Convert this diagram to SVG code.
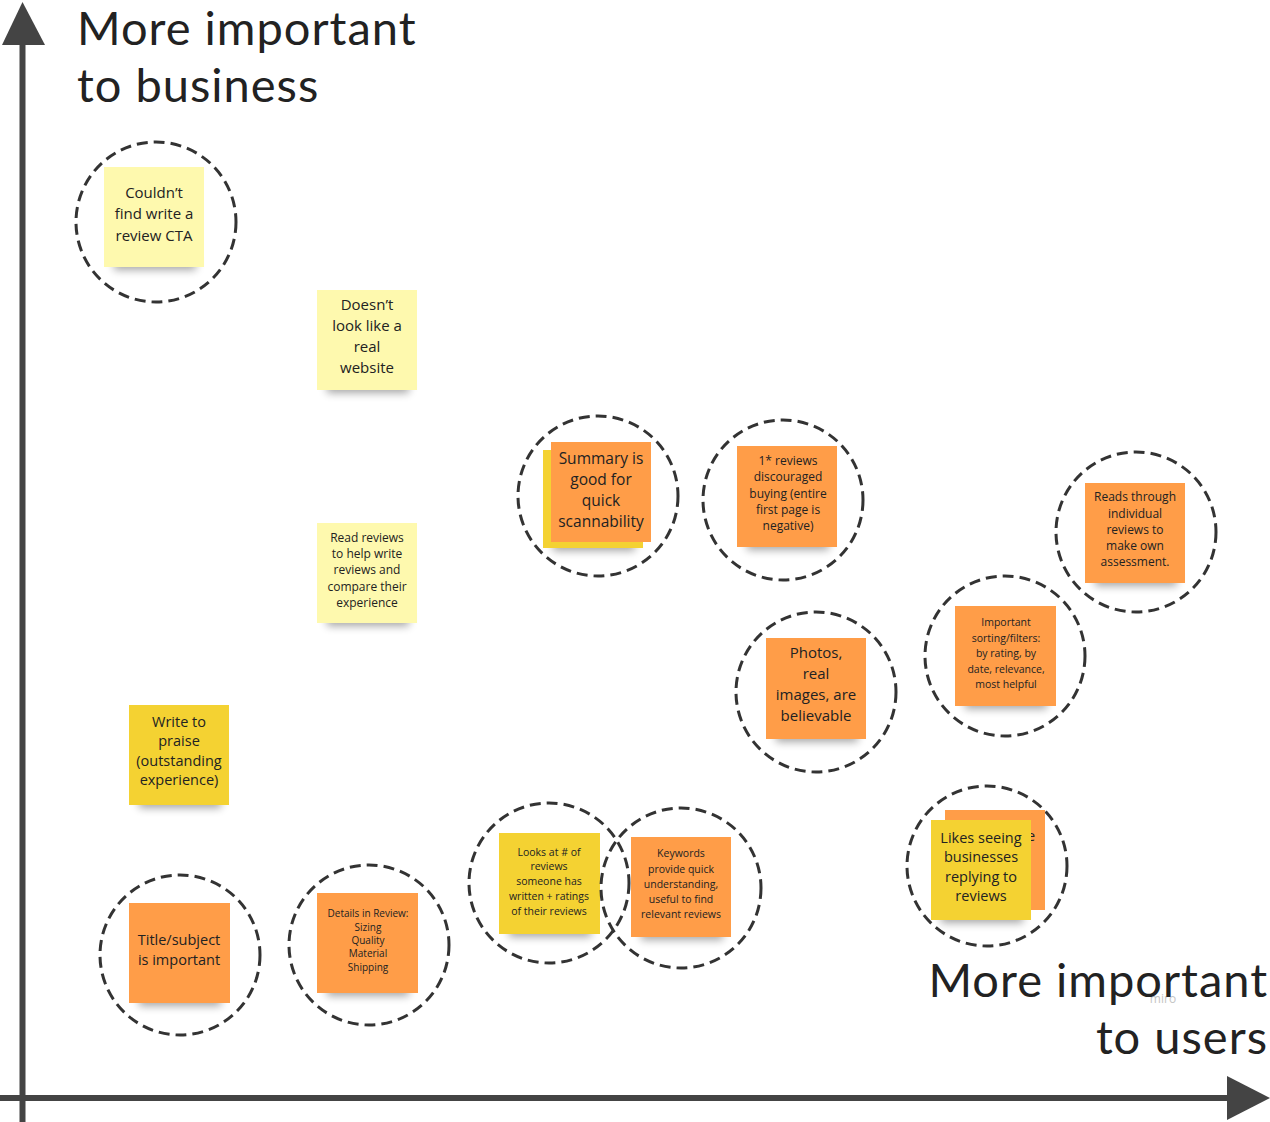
<svg xmlns="http://www.w3.org/2000/svg" width="1270" height="1122" viewBox="0 0 1270 1122">
<defs>
<filter id="blur" x="-20%" y="-100%" width="140%" height="300%"><feGaussianBlur stdDeviation="4"/></filter>
<style>
.ax{stroke:#444;stroke-width:6;fill:none}
.axh{fill:#444}
.title{font-family:Lato,"Open Sans",sans-serif;font-size:47px;letter-spacing:1px;fill:#222}
.ring{fill:none;stroke:#333;stroke-width:3;stroke-dasharray:11 6}
.sh{fill:#000;opacity:.35;filter:url(#blur)}
.ly{fill:#fef9ae}
.yw{fill:#f4d232}
.or{fill:#ff9d48}
.t{font-family:"Open Sans","Noto Sans",sans-serif;fill:#222;text-anchor:middle}
</style>
</defs>
<rect width="1270" height="1122" fill="#fff"/>

<g id="axes">
<line class="ax" x1="22.5" y1="40" x2="22.5" y2="1122"/>
<polygon class="axh" points="22.5,2 2,45 45,45"/>
<line class="ax" x1="0" y1="1098" x2="1230" y2="1098"/>
<polygon class="axh" points="1270,1098 1227,1076 1227,1120"/>
</g>

<g id="label-business">
<text class="title" x="77" y="45">More important</text>
<text class="title" x="77" y="102">to business</text>
</g>
<g id="label-users">
<text x="1163" y="1003" font-family="Open Sans,sans-serif" font-size="12" fill="#c4c4c4" text-anchor="middle">miro</text>
<text class="title" x="1268" y="997" text-anchor="end">More important</text>
<text class="title" x="1268" y="1054" text-anchor="end">to users</text>
</g>

<g id="n-cta">
<circle class="ring" cx="156" cy="222" r="80"/>
<rect class="sh" x="114" y="256" width="82" height="14"/>
<rect class="ly" x="104" y="167" width="100" height="100"/>
<text class="t" font-size="15"><tspan x="154" y="198">Couldn’t</tspan><tspan x="154" y="219">find write a</tspan><tspan x="154" y="241">review CTA</tspan></text>
</g>

<g id="n-website">
<rect class="sh" x="327" y="379" width="82" height="14"/>
<rect class="ly" x="317" y="290" width="100" height="100"/>
<text class="t" font-size="15"><tspan x="367" y="310">Doesn’t</tspan><tspan x="367" y="331">look like a</tspan><tspan x="367" y="352">real</tspan><tspan x="367" y="373">website</tspan></text>
</g>

<g id="n-readreviews">
<rect class="sh" x="327" y="612" width="82" height="14"/>
<rect class="ly" x="317" y="523" width="100" height="100"/>
<text class="t" font-size="12"><tspan x="367" y="542">Read reviews</tspan><tspan x="367" y="558">to help write</tspan><tspan x="367" y="574">reviews and</tspan><tspan x="367" y="591">compare their</tspan><tspan x="367" y="607">experience</tspan></text>
</g>

<g id="n-praise">
<rect class="sh" x="139" y="794" width="82" height="14"/>
<rect class="yw" x="129" y="705" width="100" height="100"/>
<text class="t" font-size="14.5"><tspan x="179" y="727">Write to</tspan><tspan x="179" y="746">praise</tspan><tspan x="179" y="766">(outstanding</tspan><tspan x="179" y="785">experience)</tspan></text>
</g>

<g id="n-title">
<circle class="ring" cx="180" cy="955" r="80"/>
<rect class="sh" x="139" y="992" width="82" height="14"/>
<rect class="or" x="129" y="903" width="101" height="100"/>
<text class="t" font-size="14.5"><tspan x="179" y="945">Title/subject</tspan><tspan x="179" y="965">is important</tspan></text>
</g>

<g id="n-details">
<circle class="ring" cx="369" cy="945" r="80"/>
<rect class="sh" x="327" y="982" width="82" height="14"/>
<rect class="or" x="317" y="893" width="101" height="100"/>
<text class="t" font-size="10"><tspan x="368" y="917">Details in Review:</tspan><tspan x="368" y="931">Sizing</tspan><tspan x="368" y="944">Quality</tspan><tspan x="368" y="957">Material</tspan><tspan x="368" y="971">Shipping</tspan></text>
</g>

<g id="n-looksat">
<circle class="ring" cx="549" cy="883" r="80"/>
<rect class="sh" x="509" y="923" width="82" height="14"/>
<rect class="yw" x="499" y="833" width="101" height="101"/>
<text class="t" font-size="10.5"><tspan x="549" y="856">Looks at # of</tspan><tspan x="549" y="870">reviews</tspan><tspan x="549" y="885">someone has</tspan><tspan x="549" y="900">written + ratings</tspan><tspan x="549" y="915">of their reviews</tspan></text>
</g>

<g id="n-keywords">
<circle class="ring" cx="681" cy="888" r="80"/>
<rect class="sh" x="641" y="926" width="82" height="14"/>
<rect class="or" x="631" y="837" width="100" height="100"/>
<text class="t" font-size="10.5"><tspan x="681" y="857">Keywords</tspan><tspan x="681" y="873">provide quick</tspan><tspan x="681" y="888">understanding,</tspan><tspan x="681" y="903">useful to find</tspan><tspan x="681" y="918">relevant reviews</tspan></text>
</g>

<g id="n-summary">
<circle class="ring" cx="598" cy="496" r="80"/>
<rect class="sh" x="553" y="537" width="82" height="14"/>
<rect class="yw" x="543" y="450" width="100" height="98"/>
<rect class="or" x="551" y="442" width="100" height="100"/>
<text class="t" font-size="15.5"><tspan x="601" y="464">Summary is</tspan><tspan x="601" y="485">good for</tspan><tspan x="601" y="506">quick</tspan><tspan x="601" y="527">scannability</tspan></text>
</g>

<g id="n-onestar">
<circle class="ring" cx="783" cy="500" r="80"/>
<rect class="sh" x="747" y="536" width="82" height="14"/>
<rect class="or" x="737" y="446" width="100" height="101"/>
<text class="t" font-size="12"><tspan x="788" y="465">1* reviews</tspan><tspan x="788" y="481">discouraged</tspan><tspan x="788" y="498">buying (entire</tspan><tspan x="788" y="514">first page is</tspan><tspan x="788" y="530">negative)</tspan></text>
</g>

<g id="n-readsthrough">
<circle class="ring" cx="1136" cy="532" r="80"/>
<rect class="sh" x="1095" y="572" width="82" height="14"/>
<rect class="or" x="1085" y="483" width="100" height="100"/>
<text class="t" font-size="12"><tspan x="1135" y="501">Reads through</tspan><tspan x="1135" y="518">individual</tspan><tspan x="1135" y="534">reviews to</tspan><tspan x="1135" y="550">make own</tspan><tspan x="1135" y="566">assessment.</tspan></text>
</g>

<g id="n-sorting">
<circle class="ring" cx="1005" cy="656" r="80"/>
<rect class="sh" x="965" y="695" width="82" height="14"/>
<rect class="or" x="955" y="606" width="101" height="100"/>
<text class="t" font-size="10.5"><tspan x="1006" y="626">Important</tspan><tspan x="1006" y="642">sorting/filters:</tspan><tspan x="1006" y="657">by rating, by</tspan><tspan x="1006" y="673">date, relevance,</tspan><tspan x="1006" y="688">most helpful</tspan></text>
</g>

<g id="n-photos">
<circle class="ring" cx="816" cy="692" r="80"/>
<rect class="sh" x="776" y="728" width="82" height="14"/>
<rect class="or" x="766" y="638" width="100" height="101"/>
<text class="t" font-size="15"><tspan x="816" y="658">Photos,</tspan><tspan x="816" y="679">real</tspan><tspan x="816" y="700">images, are</tspan><tspan x="816" y="721">believable</tspan></text>
</g>

<g id="n-likes">
<circle class="ring" cx="987" cy="866" r="80"/>
<rect class="or" x="945" y="810" width="100" height="100"/>
<text class="t" font-size="14.5"><tspan x="1031" y="841">e</tspan></text>
<rect class="sh" x="941" y="909" width="82" height="14"/>
<rect class="yw" x="931" y="820" width="100" height="100"/>
<text class="t" font-size="14.5"><tspan x="981" y="843">Likes seeing</tspan><tspan x="981" y="862">businesses</tspan><tspan x="981" y="882">replying to</tspan><tspan x="981" y="901">reviews</tspan></text>
</g>
</svg>
